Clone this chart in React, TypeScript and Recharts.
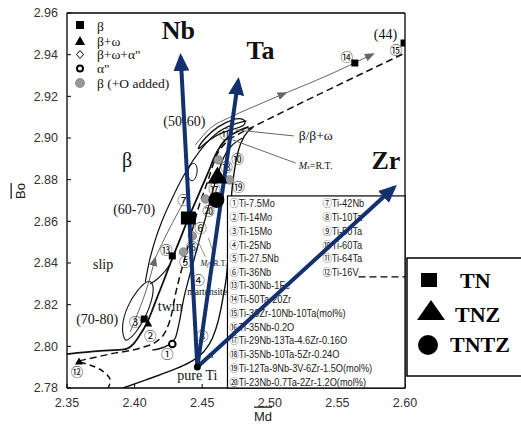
import React from "react";
import { ComposedChart, Line, Scatter, XAxis, YAxis, ReferenceLine, ReferenceArea } from "recharts";

const X_TICKS = [2.35, 2.4, 2.45, 2.5, 2.55, 2.6];
const Y_TICKS = [2.78, 2.8, 2.82, 2.84, 2.86, 2.88, 2.9, 2.92, 2.94, 2.96];

type Pt = { x: number; y: number; t?: string };
const pairs = (a: number[][]): Pt[] => a.map(([x, y]) => ({ x, y }));
const tagged = (a: [number, number, string][]): Pt[] => a.map(([x, y, t]) => ({ x, y, t }));

// boundary curves (Md, Bo)
const lineA = pairs([
  [2.35, 2.7963], [2.3745, 2.7978], [2.393, 2.7987], [2.399, 2.8011], [2.4034, 2.805], [2.4071, 2.8088],
  [2.4101, 2.8126], [2.4131, 2.8174], [2.4168, 2.8237], [2.4212, 2.8309], [2.4257, 2.8386], [2.4301, 2.8458],
  [2.4346, 2.853], [2.4398, 2.8616], [2.445, 2.8693], [2.4501, 2.877], [2.4546, 2.8837], [2.4591, 2.8909],
  [2.4635, 2.8962], [2.4694, 2.9005], [2.4769, 2.9034], [2.4843, 2.9053],
]);
const lineB = pairs([
  [2.3589, 2.793], [2.3819, 2.7963], [2.4042, 2.7992], [2.4168, 2.8026], [2.4234, 2.8078], [2.4272, 2.815],
  [2.4301, 2.8246], [2.4331, 2.8328], [2.4368, 2.8414], [2.4427, 2.8559], [2.4479, 2.8679], [2.4539, 2.8789],
  [2.4605, 2.8914], [2.468, 2.8981], [2.4769, 2.9019], [2.4858, 2.9048], [2.6, 2.9408],
]);
const lineC = pairs([[2.3596, 2.7925], [2.3708, 2.7901], [2.3782, 2.7872], [2.3819, 2.7838], [2.3804, 2.78]]);
const lineD = pairs([
  [2.3915, 2.78], [2.4079, 2.7838], [2.4264, 2.7882], [2.4412, 2.7925], [2.4509, 2.7973], [2.4576, 2.804],
  [2.462, 2.8126], [2.4657, 2.8246], [2.4687, 2.839], [2.4702, 2.8559], [2.4717, 2.8727], [2.4739, 2.8847],
  [2.4769, 2.8943], [2.4813, 2.901], [2.4872, 2.9048],
]);
const lineE = pairs([
  [2.4131, 2.7982], [2.4249, 2.8006], [2.4301, 2.804], [2.4331, 2.8117], [2.4361, 2.8222], [2.4398, 2.8318],
  [2.4435, 2.8405], [2.4479, 2.8511], [2.4524, 2.8616], [2.4568, 2.8722], [2.4613, 2.8823], [2.4657, 2.8904],
  [2.4717, 2.8962], [2.4798, 2.9],
]);
const lineF = pairs([
  [2.4079, 2.8309], [2.4108, 2.8405], [2.4153, 2.8511], [2.4212, 2.8616], [2.4279, 2.8712], [2.4353, 2.8808],
  [2.4435, 2.8895], [2.4524, 2.8971], [2.462, 2.9029], [2.4724, 2.9063], [2.4828, 2.9082],
]);
const lineG = pairs([[2.4116, 2.8299], [2.4168, 2.8323], [2.422, 2.8357], [2.4264, 2.8395]]);
const loop7080 = pairs([
  [2.3923, 2.803], [2.3901, 2.8098], [2.3945, 2.8194], [2.4019, 2.827], [2.4101, 2.8323],
  [2.4145, 2.8299], [2.4131, 2.8222], [2.4079, 2.8136], [2.4004, 2.8059], [2.3945, 2.8026],
]);
const loop5060 = pairs([
  [2.4457, 2.8943], [2.4524, 2.9005], [2.462, 2.9058], [2.4724, 2.9091], [2.4806, 2.9096],
  [2.4828, 2.9067], [2.4769, 2.9048], [2.465, 2.9029], [2.4546, 2.8991], [2.4487, 2.8952],
]);
const loopSmall = pairs([[2.4398, 2.8799], [2.439, 2.8847], [2.4427, 2.8885], [2.4464, 2.8871], [2.4464, 2.8823], [2.4435, 2.8789]]);
const path1a = pairs([[2.3967, 2.8069], [2.4027, 2.8165], [2.4086, 2.827], [2.4153, 2.8424]]);
const path1b = pairs([[2.4153, 2.8424], [2.4234, 2.8535], [2.4323, 2.8645], [2.4412, 2.8751]]);
const path2a = pairs([[2.445, 2.8967], [2.4561, 2.9048], [2.4694, 2.9096], [2.4858, 2.9144], [2.5117, 2.9216]]);
const path2b = pairs([[2.5117, 2.9216], [2.5451, 2.9307], [2.5763, 2.9403]]);
const betaPtr = pairs([[2.4746, 2.9039], [2.5177, 2.901]]);
const msPtr = pairs([[2.4724, 2.8991], [2.5191, 2.888]]);
const mfPtr1 = pairs([[2.4464, 2.8511], [2.4524, 2.8429]]);
const mfPtr2 = pairs([[2.4546, 2.852], [2.4591, 2.8434]]);

// alloying vectors from pure Ti
const nbArrow = pairs([[2.4464, 2.7901], [2.4341, 2.9389]]);
const taArrow = pairs([[2.4464, 2.7901], [2.4766, 2.9274]]);
const zrArrow = pairs([[2.4464, 2.7901], [2.5918, 2.8762]]);

// alloy points
const betaPts = pairs([[2.4071, 2.8131], [2.4279, 2.8434], [2.5629, 2.936], [2.5993, 2.9456]]);
const betaOmegaPts = pairs([[2.3589, 2.793], [2.4101, 2.8112]]);
const alphaPts = pairs([[2.4279, 2.8011]]);
const pureTiPt = pairs([[2.4464, 2.7901]]);
const oxygenPts = pairs([[2.462, 2.8895], [2.4702, 2.8799], [2.4524, 2.8707], [2.4427, 2.853], [2.4361, 2.8453]]);
const tnPt = pairs([[2.4398, 2.8616]]);
const tnzPt = pairs([[2.4613, 2.8823]]);
const tntzPt = pairs([[2.4605, 2.8703]]);

const circledLabels = tagged([
  [2.4672, 2.9024, "⑪"], [2.4761, 2.8904, "⑩"], [2.468, 2.8861, "⑱"], [2.4769, 2.8765, "⑲"],
  [2.4591, 2.876, "⑰"], [2.4546, 2.865, "⑳"], [2.4487, 2.8572, "⑥"], [2.4425, 2.8478, "⑯"],
  [2.4361, 2.8703, "⑦"], [2.4234, 2.8467, "⑬"], [2.4375, 2.8405, "⑤"], [2.4472, 2.8323, "④"],
  [2.4004, 2.8117, "③"], [2.4116, 2.8054, "②"], [2.4242, 2.7968, "①"], [2.3574, 2.7877, "⑫"],
  [2.4501, 2.8054, "⑧"], [2.557, 2.9389, "⑭"], [2.5933, 2.9427, "⑮"],
]);
const regionLabels = tagged([
  [2.4368, 2.9077, "(50-60)"], [2.3997, 2.8659, "(60-70)"], [2.3767, 2.8395, "slip"], [2.4264, 2.8189, "twin"],
  [2.3723, 2.8131, "(70-80)"], [2.4464, 2.7862, "pure Ti"], [2.5855, 2.9497, "(44)"],
]);
const phaseLabel = tagged([[2.3945, 2.8895, "β"]]);
const elementLabels = tagged([[2.4323, 2.9518, "Nb"], [2.4932, 2.9418, "Ta"], [2.5859, 2.889, "Zr"]]);
const sideLabels = tagged([[2.5214, 2.901, "β/β+ω"]]);
const smallLabels = tagged([[2.439, 2.8261, "martensite"], [2.4546, 2.7958, "α'"]]);
const msLabel = tagged([[2.5214, 2.8871, "s"]]);
const mfLabel = tagged([[2.4487, 2.84, "f"]]);

const TABLE_LEFT = ["①Ti-7.5Mo", "②Ti-14Mo", "③Ti-15Mo", "④Ti-25Nb", "⑤Ti-27.5Nb", "⑥Ti-36Nb"];
const TABLE_RIGHT = ["⑦Ti-42Nb", "⑧Ti-10Ta", "⑨Ti-50Ta", "⑩Ti-60Ta", "⑪Ti-64Ta", "⑫Ti-16V"];
const TABLE_LOWER = [
  "⑬Ti-30Nb-1Fe", "⑭Ti-50Ta-20Zr", "⑮Ti-30Zr-10Nb-10Ta(mol%)", "⑯Ti-35Nb-0.2O",
  "⑰Ti-29Nb-13Ta-4.6Zr-0.16O", "⑱Ti-35Nb-10Ta-5Zr-0.24O", "⑲Ti-12Ta-9Nb-3V-6Zr-1.5O(mol%)",
  "⑳Ti-23Nb-0.7Ta-2Zr-1.2O(mol%)",
];
const PHASE_KEYS = ["β", "β+ω", "β+ω+α\"", "α\"", "β (+O added)"];
const SAMPLE_KEYS = ["TN", "TNZ", "TNTZ"];

const SERIF = "'Liberation Serif', 'DejaVu Serif', serif";
const SANS = "'Liberation Sans', Arial, sans-serif";
const CJK = "'Liberation Sans', 'Noto Sans CJK JP', sans-serif";
const NAVY = "#13306f";

const textShape = (size: number, o: { family?: string; weight?: number; anchor?: string; italic?: boolean } = {}) =>
  (p: any) => (
    <text x={p.cx} y={p.cy} fontSize={size} fontFamily={o.family ?? SERIF} fontWeight={o.weight}
      fontStyle={o.italic ? "italic" : undefined} textAnchor={o.anchor ?? "middle"} dominantBaseline="central" fill="#111">
      {p.payload.t}
    </text>
  );

const mShape = (size: number, tail: string) => (p: any) => (
  <text x={p.cx} y={p.cy} fontSize={size} fontFamily={SERIF} dominantBaseline="central" fill="#111">
    <tspan fontStyle="italic">M</tspan>
    <tspan fontStyle="italic" fontSize={size * 0.7} dy={2}>{p.payload.t}</tspan>
    <tspan dy={-2}>{tail}</tspan>
  </text>
);

const square = (w: number, h: number) => (p: any) => <rect x={p.cx - w / 2} y={p.cy - h / 2} width={w} height={h} fill="#000" />;
const triangle = (w: number, h: number) => (p: any) => (
  <polygon points={`${p.cx},${p.cy - h / 2} ${p.cx + w / 2},${p.cy + h / 2} ${p.cx - w / 2},${p.cy + h / 2}`} fill="#000" />
);
const dot = (r: number, fill: string, stroke: string, sw: number) => (p: any) => (
  <circle cx={p.cx} cy={p.cy} r={r} fill={fill} stroke={stroke} strokeWidth={sw} />
);

function TableBox(p: any) {
  const { x, y, width, height } = p;
  const row = (s: string, tx: number, ty: number) => (
    <text key={s} transform={`translate(${tx},${ty}) scale(0.88,1)`} fontSize={10.5} fontFamily={CJK}
      fill="#1a1a1a" dominantBaseline="central">{s}</text>
  );
  return (
    <g>
      <rect x={x} y={y} width={width} height={height} fill="#fff" stroke="#000" strokeWidth={1.2} />
      {TABLE_LEFT.map((s, i) => row(s, x + 2, y + 7.5 + i * 13.8))}
      {TABLE_RIGHT.map((s, i) => row(s, x + 95, y + 7.5 + i * 13.8))}
      <line x1={x + 131} x2={x + width} y1={y + 81} y2={y + 81} stroke="#000" strokeWidth={1.2} strokeDasharray="7 4" />
      {TABLE_LOWER.map((s, i) => row(s, x + 2, y + 89.5 + i * 13.8))}
    </g>
  );
}

const curve = (id: string, data: Pt[], o: { type?: any; color?: string; width?: number; dash?: string; marker?: string; z?: number } = {}) => (
  <Line key={id} id={id} data={data} dataKey="y" type={o.type ?? "monotone"} stroke={o.color ?? "#111"}
    strokeWidth={o.width ?? 1.2} strokeDasharray={o.dash} markerEnd={o.marker ? `url(#${o.marker})` : undefined}
    dot={false} activeDot={false} isAnimationActive={false} legendType="none" zIndex={o.z ?? 400} />
);

export default function App() {
  return (
    <div style={{ position: "absolute", left: 0, top: 0, width: 521, height: 427, background: "#fff" }}>
      <ComposedChart width={521} height={427} margin={{ top: 13, right: 116, bottom: 0, left: 0 }}>
        <defs>
          <marker id="navyHead" viewBox="0 0 18 16" markerWidth={18} markerHeight={16} refX={14} refY={8}
            orient="auto" markerUnits="userSpaceOnUse">
            <path d="M0,0 L18,8 L0,16 Z" fill={NAVY} />
          </marker>
          <marker id="grayHead" viewBox="0 0 10 8" markerWidth={10} markerHeight={8} refX={8} refY={4}
            orient="auto" markerUnits="userSpaceOnUse">
            <path d="M0,0 L10,4 L0,8 Z" fill="#666" />
          </marker>
        </defs>
        <XAxis type="number" dataKey="x" domain={[2.35, 2.6]} ticks={X_TICKS} allowDataOverflow height={39}
          tickFormatter={(v: number) => v.toFixed(2)} tickSize={-4} tickMargin={14}
          tick={{ fontSize: 12.5, fill: "#333", fontFamily: SANS }}
          axisLine={{ stroke: "#000", strokeWidth: 1.3 }} tickLine={{ stroke: "#000" }} />
        <YAxis type="number" dataKey="y" domain={[2.78, 2.96]} ticks={Y_TICKS} allowDataOverflow width={67}
          tickFormatter={(v: number) => v.toFixed(2)} tickSize={-4} tickMargin={13}
          tick={{ fontSize: 12.5, fill: "#333", fontFamily: SANS }}
          axisLine={{ stroke: "#000", strokeWidth: 1.3 }} tickLine={{ stroke: "#000" }} />
        <ReferenceLine y={2.96} stroke="#000" strokeWidth={1.3} />
        <ReferenceLine x={2.6} stroke="#000" strokeWidth={1.3} />

        {curve("a", lineA, { width: 1.8 })}
        {curve("b", lineB, { width: 1.5, dash: "7 4" })}
        {curve("c", lineC, { type: "natural", width: 1.5, dash: "6 4" })}
        {curve("d", lineD, { width: 1.4 })}
        {curve("e", lineE, { width: 1.3 })}
        {curve("f", lineF, { width: 1.2 })}
        {curve("g", lineG, { width: 1.1 })}
        {curve("l1", loop7080, { type: "basisClosed", width: 1.1 })}
        {curve("l2", loop5060, { type: "basisClosed", width: 1.3 })}
        {curve("l3", loopSmall, { type: "basisClosed", width: 1 })}
        {curve("p1a", path1a, { color: "#666", width: 1, marker: "grayHead" })}
        {curve("p1b", path1b, { color: "#666", width: 1 })}
        {curve("p2a", path2a, { color: "#666", width: 1, marker: "grayHead" })}
        {curve("p2b", path2b, { color: "#666", width: 1, marker: "grayHead" })}
        {curve("bp", betaPtr, { type: "linear", color: "#666", width: 1 })}
        {curve("mp", msPtr, { type: "linear", color: "#666", width: 1 })}
        {curve("mf1", mfPtr1, { type: "linear", color: "#777", width: 0.8 })}
        {curve("mf2", mfPtr2, { type: "linear", color: "#777", width: 0.8 })}

        <Scatter data={regionLabels} shape={textShape(14)} isAnimationActive={false} />
        <Scatter data={phaseLabel} shape={textShape(20)} isAnimationActive={false} />
        <Scatter data={sideLabels} shape={textShape(13.5, { anchor: "start" })} isAnimationActive={false} />
        <Scatter data={smallLabels} shape={textShape(9.5, { anchor: "start" })} isAnimationActive={false} />
        <Scatter data={msLabel} shape={mShape(10, "=R.T.")} isAnimationActive={false} />
        <Scatter data={mfLabel} shape={mShape(8, "=R.T.")} isAnimationActive={false} />
        <Scatter data={circledLabels} shape={textShape(12.5, { family: "'Noto Sans CJK JP', sans-serif" })} isAnimationActive={false} />
        <Scatter data={betaPts} shape={square(7, 7)} isAnimationActive={false} />
        <Scatter data={betaOmegaPts} shape={triangle(8, 7)} isAnimationActive={false} />
        <Scatter data={alphaPts} shape={dot(3.3, "#fff", "#000", 2)} isAnimationActive={false} />
        <Scatter data={oxygenPts} shape={dot(4.3, "#9a9a9a", "#6a6a6a", 0.6)} isAnimationActive={false} />

        <ReferenceArea x1={2.4687} x2={2.6} y1={2.78} y2={2.8722} ifOverflow="visible" shape={TableBox} zIndex={700} />

        {curve("nb", nbArrow, { type: "linear", color: NAVY, width: 4, marker: "navyHead", z: 800 })}
        {curve("ta", taArrow, { type: "linear", color: NAVY, width: 4, marker: "navyHead", z: 800 })}
        {curve("zr", zrArrow, { type: "linear", color: NAVY, width: 4, marker: "navyHead", z: 800 })}

        <Scatter data={pureTiPt} shape={dot(3.5, "#000", "#000", 0)} isAnimationActive={false} zIndex={900} />
        <Scatter data={elementLabels} shape={textShape(26, { weight: 700 })} isAnimationActive={false} zIndex={900} />
        <Scatter data={tnPt} shape={square(15, 13)} isAnimationActive={false} zIndex={900} />
        <Scatter data={tnzPt} shape={triangle(20, 17)} isAnimationActive={false} zIndex={900} />
        <Scatter data={tntzPt} shape={dot(8, "#000", "#000", 0)} isAnimationActive={false} zIndex={900} />
      </ComposedChart>

      <svg width={521} height={427} style={{ position: "absolute", left: 0, top: 0, pointerEvents: "none" }}>
        <rect x={76} y={21} width={8} height={8} fill="#000" />
        <polygon points="80,36 85,45 75,45" fill="#000" />
        <polygon points="80,50.5 83.5,54.5 80,58.5 76.5,54.5" fill="#fff" stroke="#000" strokeWidth={1} />
        <circle cx={80} cy={68.5} r={3} fill="#fff" stroke="#000" strokeWidth={2} />
        <circle cx={80} cy={83} r={4.5} fill="#9a9a9a" stroke="#6a6a6a" strokeWidth={0.6} />
        {PHASE_KEYS.map((s, i) => (
          <text key={s} x={97} y={[26, 41, 54.5, 68.5, 83][i]} fontSize={13.5} fontFamily={SERIF} dominantBaseline="central" fill="#111">{s}</text>
        ))}

        <rect x={407} y={258} width={120} height={118} fill="#fff" stroke="#000" strokeWidth={1.5} />
        <rect x={421} y={273} width={16} height={14} fill="#000" />
        <polygon points="431,300 445,320 417,320" fill="#000" />
        <circle cx={428} cy={345} r={10} fill="#000" />
        {SAMPLE_KEYS.map((s, i) => (
          <text key={s} x={[460, 455, 450][i]} y={[288, 322, 352][i]} fontSize={22} fontWeight={700} fontFamily={SERIF} fill="#000">{s}</text>
        ))}

        <text transform="translate(20,191) rotate(-90)" textAnchor="middle" dominantBaseline="central" fontSize={13}
          fontFamily={SANS} fill="#222" textDecoration="overline">Bo</text>
        <text x={263} y={416} textAnchor="middle" dominantBaseline="central" fontSize={13} fontFamily={SANS}
          fill="#222" textDecoration="overline">Md</text>
      </svg>
    </div>
  );
}
